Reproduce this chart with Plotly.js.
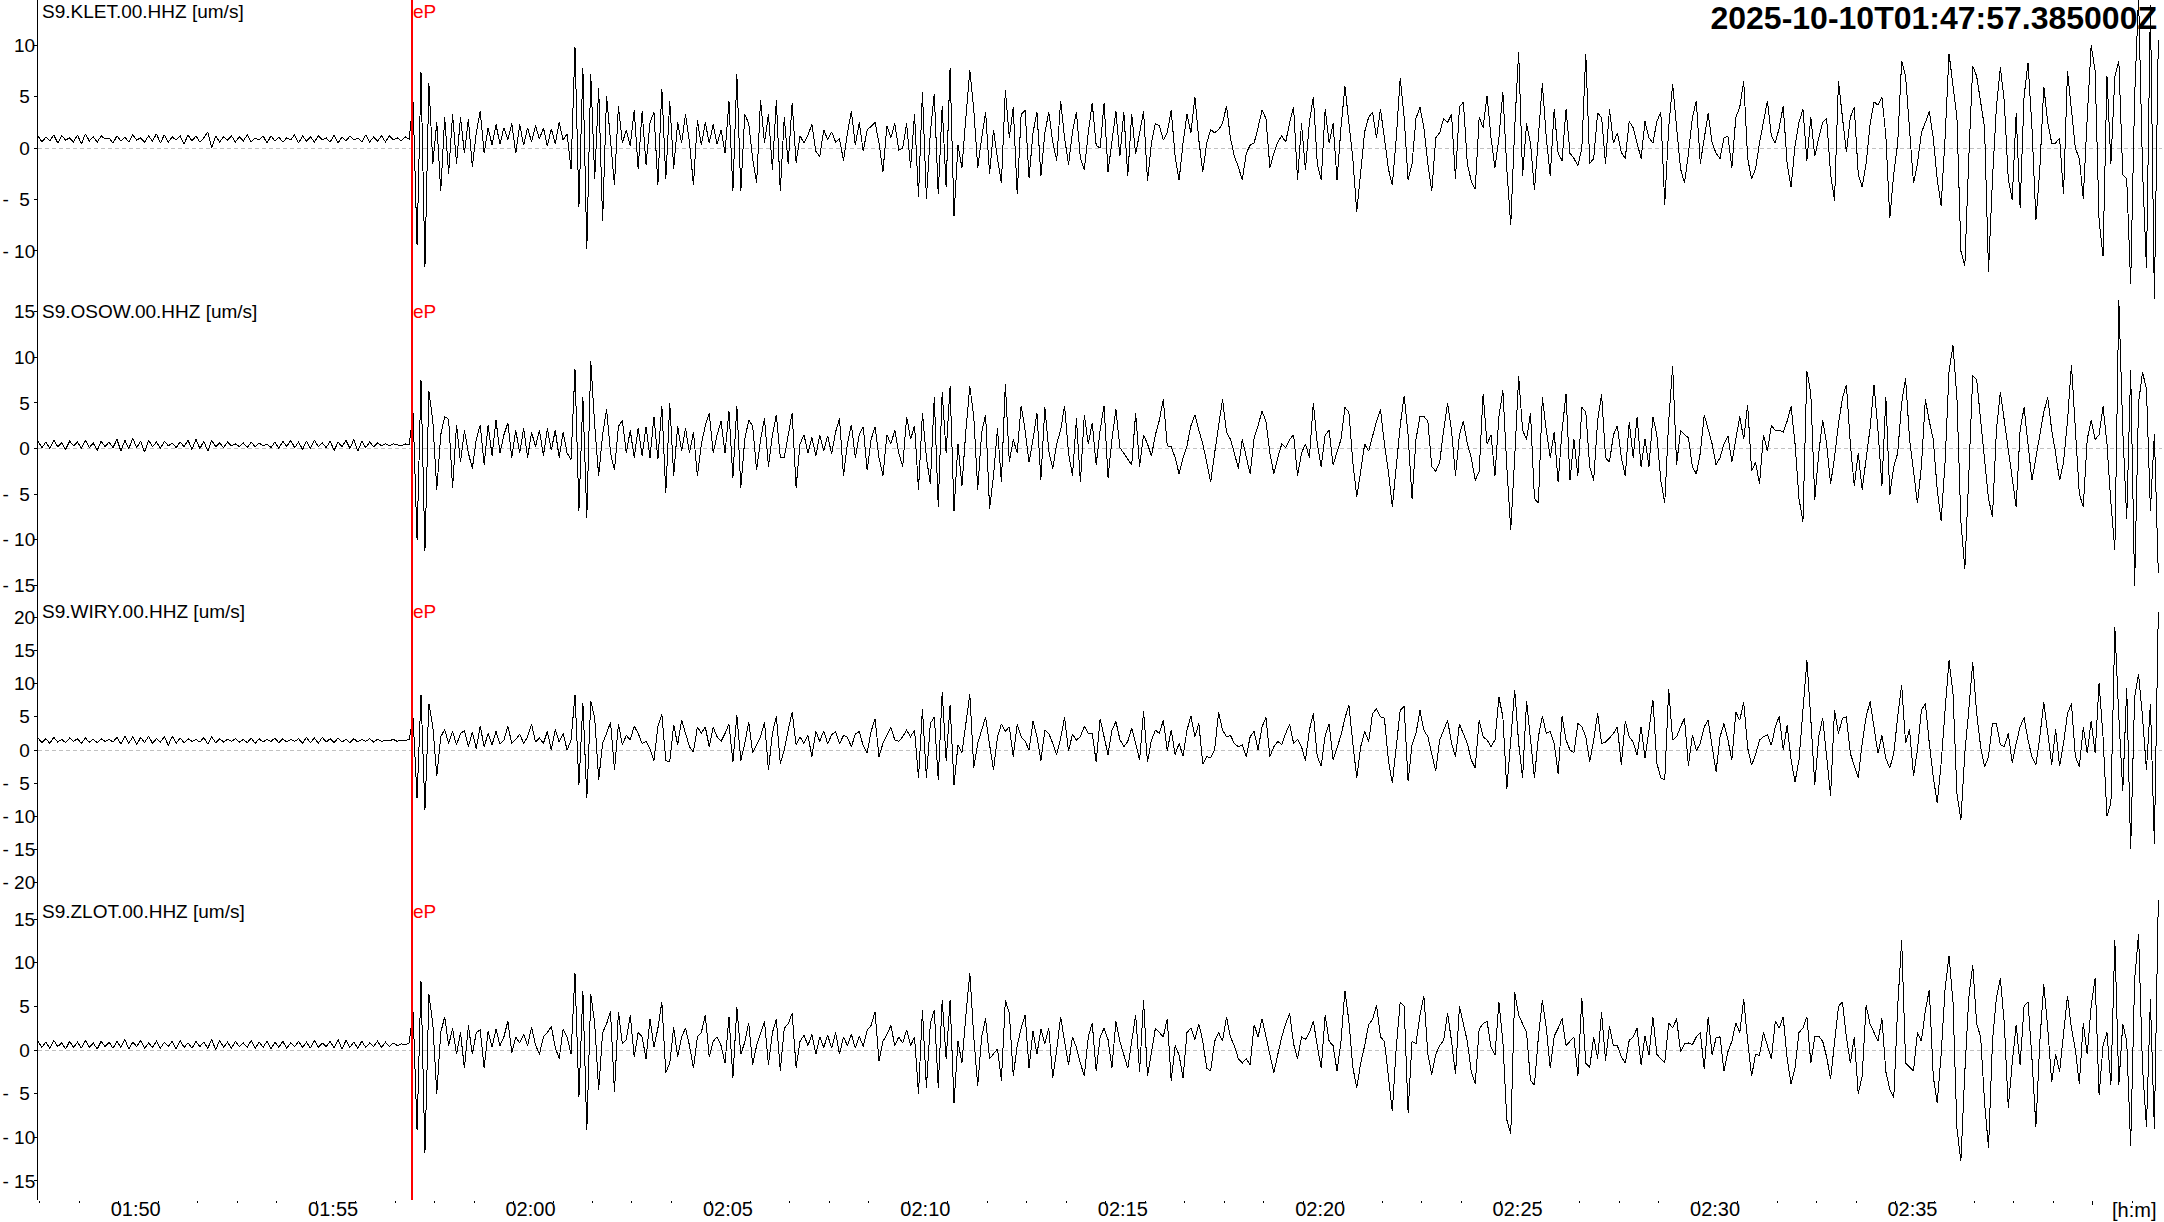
<!DOCTYPE html>
<html>
<head>
<meta charset="utf-8">
<script src="https://cdn.plot.ly/plotly-3.0.1.min.js"></script>
<style>
html,body{margin:0;padding:0;background:#ffffff;overflow:hidden;}
#chart{width:2164px;height:1222px;}
#chart .scatterlayer path, #chart .shapelayer path, #chart .xtick path, #chart .ytick path, #chart path.xtick, #chart path.ytick, #chart path.xline, #chart path.yline { shape-rendering: crispEdges; }
</style>
</head>
<body>
<div id="chart"></div>
<script>
// ---------------- data ----------------
const TITLE_TEXT = '2025-10-10T01:47:57.385000Z';
const START_UTC_MS = Date.UTC(2025, 9, 10, 1, 47, 57, 385);
const SAMPLE_INTERVAL_S = 6;
const X_RANGE = ['2025-10-10 01:47:57.385', '2025-10-10 02:41:45'];
const STATIONS = ['S9.KLET.00.HHZ [um/s]', 'S9.OSOW.00.HHZ [um/s]', 'S9.WIRY.00.HHZ [um/s]', 'S9.ZLOT.00.HHZ [um/s]'];
const PICK_LABEL = 'eP';
const PICK_TIME = '2025-10-10 01:57:25.5';
const X_TICK_TIMES = ['2025-10-10 01:50','2025-10-10 01:55','2025-10-10 02:00','2025-10-10 02:05','2025-10-10 02:10',
  '2025-10-10 02:15','2025-10-10 02:20','2025-10-10 02:25','2025-10-10 02:30','2025-10-10 02:35','2025-10-10 02:40'];
const X_TICK_LABELS = ['01:50','01:55','02:00','02:05','02:10','02:15','02:20','02:25','02:30','02:35',''];
const X_UNIT_LABEL = '[h:m]';
const Y_TICKS = [[-10,-5,0,5,10],[-15,-10,-5,0,5,10,15],[-20,-15,-10,-5,0,5,10,15,20],[-15,-10,-5,0,5,10,15]];

const KLET = [
1.2,0.6,1.1,0.7,1.3,0.5,1.2,0.8,1.0,0.6,
1.3,0.4,1.4,0.7,1.1,0.6,1.2,0.9,1.0,0.5,
1.2,0.7,1.1,0.6,1.3,0.8,1.0,0.6,1.2,0.7,
1.4,0.5,1.3,0.6,1.1,0.8,1.2,0.4,1.3,0.7,
1.2,0.6,1.0,1.6,0.0,1.2,0.6,1.1,0.8,1.2,
0.6,1.1,0.7,1.3,0.6,1.0,0.8,1.2,0.5,1.2,
0.7,1.1,0.6,1.0,0.8,1.3,0.5,1.2,0.7,1.1,
0.6,1.2,0.8,1.0,0.6,1.3,0.5,1.1,0.7,1.2,
0.8,1.0,0.6,1.3,0.6,1.1,0.7,1.2,0.6,1.2,
0.8,1.0,0.7,1.1,0.9,
4.5,-9.4,7.4,-11.6,6.3,-1.5,2.5,-4.2,3.0,-2.5,
3.3,-1.5,3.0,-0.5,2.8,-1.8,1.5,3.6,-0.5,2.0,
0.3,2.3,0.4,2.0,0.8,2.4,-0.5,2.3,0.3,2.0,
0.6,2.2,0.9,2.0,0.2,1.9,0.4,2.5,0.8,1.4,
-2.0,9.8,-5.7,7.8,-9.8,7.2,-3.0,5.9,-7.1,5.1,
0.5,-3.6,4.1,0.5,1.8,0.2,3.7,-2.0,3.6,-1.6,
2.5,3.5,-3.6,5.8,-3.0,4.6,-2.0,2.5,0.5,3.3,
0.6,-3.6,2.7,0.3,2.5,0.5,2.3,0.4,1.8,-0.5,
4.6,-4.2,7.2,-4.2,3.3,2.4,-1.0,-3.4,4.7,0.5,
3.3,-2.1,4.7,-4.2,3.0,-1.5,4.4,-1.4,1.2,0.5,
1.3,2.3,-0.3,-0.8,1.8,0.8,1.6,0.6,0.9,-1.2,
1.5,3.6,0.3,2.5,-0.3,1.8,2.1,2.5,0.5,-2.3,
2.2,1.0,2.4,-0.2,0.0,2.4,-1.9,3.3,-4.7,5.5,
-4.9,1.5,5.3,-4.5,4.1,-3.8,7.8,-6.6,0.3,-1.9,
3.0,7.6,3.8,-1.9,1.0,3.5,-2.5,1.8,-1.0,-3.4,
5.7,1.0,4.0,-4.5,3.3,3.7,-2.9,1.5,3.5,-2.7,
1.5,3.5,0.6,-1.2,4.6,1.0,-1.6,1.6,3.5,-1.0,
-2.1,1.5,4.4,0.3,0.0,4.4,-2.3,0.5,3.6,-0.8,
3.5,-2.7,3.3,-0.6,1.5,3.6,-3.2,0.5,2.4,2.2,
0.8,1.5,3.7,-0.8,-3.1,0.5,3.3,1.5,5.0,0.8,
-2.3,0.5,1.8,1.5,1.8,2.4,4.1,1.0,-0.8,-1.8,
-3.1,-0.5,0.3,0.5,2.0,3.7,2.9,-1.9,-0.5,0.6,
1.2,0.6,2.5,4.0,-3.1,2.4,-2.1,2.5,5.0,-1.5,
-3.1,3.8,0.5,2.4,-3.1,2.0,6.0,2.5,-1.0,-6.2,
-2.0,1.6,3.0,3.5,1.0,3.8,1.0,-2.0,-3.6,1.0,
6.8,3.0,-3.1,-1.5,2.9,4.0,2.0,-1.5,-4.2,1.0,
1.5,2.9,2.5,3.3,-3.0,4.0,4.5,-1.5,-3.2,-4.0,
3.0,2.0,5.1,1.0,-1.9,1.0,5.5,-2.0,-7.5,2.0,
9.4,-2.7,2.4,0.5,-4.1,1.5,6.3,1.0,-2.7,3.8,
-0.5,-1.2,3.8,-0.5,-1.0,-1.7,0.0,9.2,-1.5,-1.0,
3.4,3.0,-1.5,3.8,0.5,1.5,-0.4,-1.0,2.6,2.0,
0.5,-1.0,2.6,1.0,0.5,2.6,3.5,-5.5,2.0,6.2,
2.0,-2.0,-3.4,-0.5,3.0,4.6,-1.5,1.0,3.4,0.5,
-0.5,-1.0,1.0,1.2,-1.9,3.0,4.0,6.5,-1.0,-3.0,
-2.0,0.5,2.5,4.6,1.2,0.5,2.0,4.1,-1.5,-3.8,
0.3,2.5,3.8,-1.2,3.0,-0.8,1.0,2.5,2.9,-2.5,
-5.1,6.5,3.0,-0.4,3.0,4.0,-2.5,-3.8,-1.5,2.3,
4.5,4.2,5.0,1.2,-6.8,-2.5,0.5,8.5,7.0,1.5,
-3.4,-1.5,1.5,2.5,3.6,1.0,-3.0,-5.6,1.0,9.2,
6.0,3.0,-10.0,-11.5,-1.0,8.0,7.0,4.5,2.0,-12.0,
-3.0,4.0,7.9,4.5,-3.0,-5.0,3.4,-5.8,5.0,8.3,
2.0,-7.0,-2.0,6.0,2.5,0.5,0.5,1.0,-4.5,7.5,
4.0,0.0,-1.0,-4.9,3.0,10.0,7.5,-7.0,-10.5,7.0,
-1.5,7.0,8.5,-2.6,-3.0,-13.2,5.0,14.8,-2.0,-11.7,
13.9,-14.7,10.5
];

const OSOW = [
0.8,0.1,0.7,0.0,0.9,0.2,0.6,-0.1,0.8,0.3,
0.7,0.0,0.9,0.1,0.6,-0.2,0.8,0.2,0.7,0.1,
1.0,-0.3,0.9,0.0,1.1,0.1,0.8,-0.4,0.9,0.2,
0.7,0.0,0.8,0.3,0.6,0.1,0.7,0.2,0.9,-0.1,
1.0,0.0,0.8,-0.3,0.9,0.2,0.6,0.1,0.7,0.3,
0.5,0.2,0.6,0.1,0.7,0.2,0.6,0.3,0.5,0.1,
0.7,0.0,0.8,0.2,0.9,0.1,0.7,-0.1,0.8,0.0,
0.9,0.2,0.6,0.1,0.8,-0.2,0.7,0.2,0.9,0.0,
1.0,-0.3,0.8,0.1,0.7,0.2,0.6,0.3,0.5,0.3,
0.5,0.4,0.3,0.5,0.4,
3.9,-10.0,7.5,-11.2,6.3,3.0,-4.5,1.5,3.5,3.2,
-4.3,2.6,-1.5,2.0,-0.5,-2.2,1.0,2.6,-1.8,2.6,
-0.8,3.1,-0.5,1.5,2.8,-1.0,2.0,-0.5,2.2,-1.0,
1.8,0.2,2.0,-0.8,2.2,-0.2,2.0,-1.0,1.8,-0.5,
-1.2,8.7,-6.8,5.6,-7.6,9.6,2.5,-3.0,1.5,4.3,
-0.5,-2.4,2.4,3.1,-0.5,2.0,-1.0,2.2,-0.8,2.4,
-1.0,3.5,-1.2,4.7,-4.9,5.0,-3.0,2.5,-0.3,2.2,
-0.5,1.8,-3.0,0.5,2.5,3.9,-0.5,1.5,3.0,-0.5,
4.1,-3.2,4.7,-4.3,1.0,3.1,2.5,-2.4,1.0,3.3,
-2.0,1.5,3.7,-1.0,-1.0,1.5,3.9,-4.3,0.5,1.5,
-0.5,1.2,-0.8,1.5,-0.3,1.4,-0.6,1.8,3.3,-3.0,
0.5,2.6,-1.0,1.5,2.4,-2.4,1.0,2.4,-1.0,-3.0,
1.5,0.5,2.0,-0.5,-2.0,3.5,1.0,2.5,-4.5,3.9,
-1.0,-3.9,5.6,-6.4,6.2,-0.5,6.8,-6.8,0.5,-4.1,
2.0,6.8,3.5,-4.5,1.8,3.7,-6.6,-3.0,2.2,-3.7,
7.1,-1.5,1.0,-0.5,4.7,2.0,-1.5,1.0,3.9,-3.4,
4.5,-0.3,-2.2,0.5,2.0,4.7,-0.5,-3.0,3.3,-3.7,
3.7,0.5,2.8,-1.8,2.0,4.7,-3.2,1.0,4.3,0.1,
-0.5,-1.2,-1.8,3.9,-2.0,1.5,0.5,-0.8,1.5,3.1,
5.4,0.3,0.2,-1.0,-2.8,-1.0,0.3,2.5,3.7,2.0,
0.5,-1.5,-3.7,-0.5,2.5,5.4,1.8,1.0,-0.5,-2.2,
1.0,-1.0,-2.8,1.2,2.5,4.1,3.0,-0.5,-2.8,-1.0,
0.5,0.1,1.0,1.5,-3.0,-0.5,0.5,-1.0,5.0,0.5,
-2.0,1.5,2.0,-1.8,-0.5,1.0,4.5,4.0,-1.5,-5.3,
-2.5,0.5,-0.3,1.5,3.0,4.3,0.5,-2.5,-6.4,-2.0,
2.5,5.8,1.5,-5.5,1.0,3.5,3.5,3.0,-2.0,-2.5,
-1.5,2.0,5.0,2.0,-3.0,1.5,3.0,0.5,-1.0,-3.5,
-2.5,6.0,0.5,1.5,-3.0,3.5,6.4,-2.0,-8.9,-1.0,
7.9,2.0,1.0,3.9,-5.5,-6.0,5.6,2.0,-1.0,1.8,
-3.7,2.0,6.0,-3.5,1.0,-3.0,4.5,4.0,-2.0,-3.5,
3.0,6.0,-1.0,-1.5,1.5,2.5,-1.0,-3.0,2.9,-1.0,
3.5,-2.0,1.0,-2.0,3.5,1.5,-3.5,-6.0,3.0,9.0,
-1.8,2.0,1.5,1.2,-2.0,-2.8,-0.5,3.7,2.0,0.5,
-1.8,-1.0,0.5,1.4,-1.5,1.0,3.5,1.0,4.8,-2.5,
-1.5,-3.9,1.5,-0.3,2.5,2.0,2.0,1.8,3.0,4.6,
0.5,-5.5,-8.0,8.5,6.0,-5.6,-0.5,3.1,0.5,-3.9,
-1.0,2.7,5.5,7.0,0.5,-4.1,-0.5,-4.5,-1.0,2.2,
7.0,2.0,-4.1,5.6,-5.1,-2.0,-0.5,5.0,7.7,1.0,
-2.5,-6.0,-2.0,5.4,3.0,1.0,-4.5,-7.9,-1.5,8.5,
11.3,5.5,-8.0,-13.2,-3.0,8.0,7.5,3.0,-1.5,-5.5,
-7.5,2.0,6.2,3.0,0.2,-3.0,-6.4,2.0,4.5,0.5,
-3.5,-1.0,1.5,4.0,5.6,2.0,-0.5,-3.5,-1.5,3.0,
9.2,2.0,-5.0,-6.4,1.0,3.1,1.0,1.5,4.6,0.5,
-6.0,-11.1,16.4,2.0,-7.7,8.6,-15.1,5.0,8.4,6.5,
-6.8,1.6,-13.6
];

const WIRY = [
1.8,1.1,1.7,1.0,1.9,1.2,1.6,1.1,1.8,1.3,
1.7,1.0,1.8,1.2,1.6,1.1,1.7,1.3,1.6,1.2,
1.9,0.9,2.1,1.0,2.0,0.8,1.9,1.1,2.1,1.0,
1.7,1.2,2.0,0.7,2.1,1.0,1.8,1.1,1.7,1.3,
1.6,1.2,1.9,0.9,2.0,1.1,1.7,1.2,1.6,1.3,
1.7,1.2,1.6,1.1,1.8,1.0,1.7,1.2,1.6,1.3,
1.8,1.1,1.7,1.2,1.6,1.3,1.7,1.0,1.9,1.1,
1.8,1.0,1.9,1.2,1.7,1.1,1.8,1.2,1.6,1.1,
1.7,1.2,1.6,1.3,1.7,1.2,1.6,1.3,1.5,1.4,
1.6,1.3,1.5,1.4,1.6,
4.8,-7.3,8.3,-9.1,7.0,3.5,-3.9,2.0,3.1,1.0,
2.8,0.8,2.5,2.9,0.5,2.7,0.2,3.6,0.5,2.5,
0.8,2.8,0.9,1.5,3.6,1.0,1.6,2.4,1.0,2.0,
3.9,1.2,1.8,1.0,2.8,0.0,3.1,1.2,2.5,0.0,
1.5,8.3,-5.3,7.1,-7.3,7.4,4.8,-4.5,1.0,2.5,
4.2,-3.0,3.9,0.8,2.2,1.5,3.6,2.5,1.0,1.3,
0.2,-1.6,3.6,5.4,-1.6,-1.8,3.8,0.8,4.5,2.5,
0.5,-0.3,3.5,2.5,3.5,0.5,3.4,2.0,1.3,2.5,
3.9,-1.8,5.2,-1.6,1.0,4.2,-0.4,0.8,2.0,4.2,
-3.0,2.5,5.1,-2.1,0.0,3.0,5.7,0.8,2.0,1.0,
2.2,-1.0,2.8,1.3,2.9,0.9,2.3,2.8,0.9,2.2,
1.9,0.5,2.4,2.8,0.6,-0.4,2.8,4.7,-1.0,1.0,
2.2,3.4,1.5,1.3,2.0,3.0,2.0,3.0,-4.2,6.2,
-4.2,4.0,5.0,-4.5,8.8,-1.6,6.8,-5.3,0.8,-0.4,
4.0,8.4,-2.7,1.0,3.0,5.0,0.8,-3.0,2.0,3.9,
2.8,3.5,-1.0,3.9,2.0,1.3,0.0,4.3,2.0,-1.6,
3.0,2.5,1.0,-0.7,1.8,4.9,-0.2,2.4,1.5,2.0,
3.6,2.5,2.5,-1.8,4.7,2.0,-0.7,3.0,4.3,1.6,
0.5,1.3,3.3,1.0,-1.5,5.8,-1.8,1.5,3.0,2.5,
4.5,-0.1,3.0,-0.7,1.0,-0.9,3.0,5.1,2.0,4.0,
-2.1,-1.0,-1.2,0.0,5.7,3.0,2.0,2.2,1.0,0.5,
0.8,-1.0,2.0,2.8,0.0,3.5,4.9,-1.0,0.5,1.3,
0.8,2.5,3.9,1.0,1.6,0.5,-1.6,3.0,5.5,-1.0,
-2.4,2.2,3.9,-1.5,0.5,2.2,4.8,6.8,1.0,-4.2,
0.5,2.8,1.3,5.5,6.2,5.0,4.8,-1.5,-5.0,1.0,
6.0,6.6,-4.7,0.8,2.5,6.0,3.0,2.0,-0.7,-3.2,
1.5,3.0,4.5,1.0,-1.0,3.9,2.5,1.0,-1.5,-2.7,
4.5,2.0,1.5,0.5,1.5,8.0,5.0,-5.9,1.5,9.1,
1.0,-4.2,7.4,1.0,-4.2,2.0,5.1,2.5,2.8,1.0,
-3.6,5.1,1.5,0.0,-0.4,4.0,3.5,2.0,-1.8,1.5,
5.5,1.0,1.2,1.8,2.5,3.5,-2.2,4.4,2.0,1.2,
-0.8,3.5,-1.2,3.0,7.6,-2.0,-4.2,-4.5,9.2,1.5,
2.0,3.5,4.8,-2.4,2.3,-0.1,1.0,3.5,4.5,0.5,
-3.3,2.0,4.0,1.5,-1.5,5.7,4.5,7.2,0.3,-2.3,
-0.7,1.5,2.0,2.3,0.7,3.5,5.1,0.0,3.7,-1.5,
-4.8,-1.5,6.0,13.5,4.6,-5.3,2.0,4.8,-1.0,-6.9,
6.0,2.5,4.8,5.0,-0.5,-2.5,-4.2,1.0,5.0,7.3,
3.0,-0.5,2.2,-1.3,-2.7,-0.5,5.0,9.8,1.0,3.1,
-3.9,0.0,6.0,7.0,1.0,-4.0,-8.0,-2.0,6.0,13.5,
8.5,-6.5,-10.6,-0.5,6.0,13.3,5.5,0.5,-2.6,-1.0,
4.0,4.0,0.8,0.5,2.5,-1.9,1.0,3.5,4.9,1.5,
-1.0,-2.2,2.0,7.2,2.5,-2.2,3.1,-2.4,1.0,5.5,
7.0,-1.0,-2.5,3.5,-0.5,4.4,-0.5,10.1,2.0,-10.0,
-8.0,18.5,5.0,-6.2,9.4,-14.9,8.0,11.5,5.0,-3.0,
7.0,-14.1,20.8
];

const ZLOT = [
1.0,0.3,0.9,0.2,1.1,0.4,0.8,0.1,1.0,0.3,
0.9,0.2,1.1,0.3,0.8,0.1,1.0,0.4,0.9,0.2,
1.0,0.3,1.2,0.1,0.9,0.4,1.1,0.2,0.8,0.3,
1.0,0.2,0.9,0.4,1.0,0.1,1.1,0.3,0.8,0.2,
1.0,0.4,0.9,0.2,1.2,0.0,1.1,0.3,0.9,0.2,
1.0,0.4,0.8,0.3,1.1,0.2,0.9,0.3,1.0,0.1,
0.9,0.3,1.0,0.2,0.8,0.4,1.0,0.3,0.9,0.2,
1.1,0.3,0.8,0.4,1.0,0.2,1.2,0.1,1.1,0.3,
0.9,0.2,1.0,0.3,0.8,0.4,1.0,0.3,0.9,0.4,
0.8,0.5,0.7,0.6,0.8,
4.4,-9.2,7.9,-11.8,6.4,3.0,-5.0,2.0,3.8,0.5,
2.5,-0.5,2.0,-2.1,2.8,-0.5,2.0,2.3,-2.1,2.2,
0.3,2.4,0.5,1.5,3.3,-0.3,1.5,0.8,1.8,0.5,
2.6,0.6,-0.5,1.5,2.0,2.7,0.3,-1.0,2.4,1.5,
-0.5,8.8,-5.4,6.8,-9.2,6.4,3.0,-4.6,2.0,3.0,
4.4,-4.8,4.4,0.7,1.2,4.0,-0.8,2.0,1.5,-1.0,
3.6,0.3,2.5,5.5,-2.6,-1.5,2.6,-0.8,1.5,2.5,
0.5,-2.1,1.5,2.0,4.0,-0.8,1.0,1.5,0.5,-1.5,
3.8,-3.2,4.9,-0.5,0.9,3.1,-1.7,0.5,2.0,3.3,
-1.7,2.0,3.5,-2.4,2.5,3.0,4.2,-2.0,1.0,1.7,
0.5,1.8,-0.5,1.5,0.3,1.7,0.2,2.0,-0.5,1.5,
0.5,1.8,0.2,1.6,0.4,2.3,2.8,4.4,-1.3,1.0,
1.8,2.8,0.5,1.5,0.8,2.3,0.5,1.5,-5.0,4.6,
-4.3,3.0,4.6,-4.3,5.7,-1.0,5.7,-6.1,1.0,-1.5,
4.0,8.8,1.5,-4.1,1.5,3.6,-1.0,-0.5,0.1,-3.5,
5.7,4.2,-3.0,0.5,2.5,4.0,-2.1,2.2,-0.5,2.4,
0.7,2.5,-3.2,0.0,3.8,1.0,-1.7,1.5,0.3,-1.5,
-3.0,1.5,3.1,-2.4,1.5,2.5,1.2,-2.0,3.3,1.0,
-0.5,-2.1,1.0,4.0,-2.5,5.7,-3.0,0.0,2.5,2.0,
1.5,3.6,-3.5,0.5,-0.6,-3.2,2.0,2.5,1.2,3.0,
1.0,-2.1,-2.4,1.0,2.0,1.0,3.8,1.5,0.5,-1.0,
-1.5,-1.0,-1.7,2.9,1.5,3.6,1.5,-0.5,-2.6,-0.5,
1.5,3.0,4.2,0.7,-1.0,1.5,1.2,2.0,3.3,0.5,
-2.1,4.0,1.0,0.5,-2.4,1.0,6.8,3.3,-2.0,-4.3,
-1.5,0.5,2.9,3.5,5.1,1.5,1.0,-3.0,-7.0,0.3,
5.5,5.0,-7.2,1.0,0.7,4.0,6.2,-0.5,-2.8,-0.5,
0.5,1.1,4.2,1.0,-2.8,5.0,3.0,1.0,-2.5,-3.9,
2.4,3.0,3.3,0.3,-0.6,5.5,1.0,-8.0,-9.6,6.6,
4.0,3.0,2.0,-3.5,-4.0,1.5,5.7,2.5,-2.1,1.6,
2.5,3.6,0.5,1.0,1.5,-3.0,6.0,-1.5,-2.0,1.5,
-1.0,4.3,-1.2,2.7,0.5,0.5,-0.8,-1.5,1.1,1.5,
2.5,-1.7,1.6,-0.6,3.8,-0.5,-1.0,-1.5,3.1,2.5,
3.6,-0.2,0.7,0.8,0.6,1.5,2.0,-2.2,3.8,-0.6,
1.4,1.5,-2.4,-0.2,1.0,3.1,2.0,5.8,1.0,-3.0,
-0.5,-0.6,2.0,0.5,-1.0,3.3,2.5,3.8,-1.0,-3.9,
-2.0,2.0,2.5,3.8,-1.5,1.5,1.6,1.0,-0.8,-3.3,
1.0,5.0,5.5,1.5,-1.5,1.5,-5.0,-3.0,5.1,3.0,
2.0,1.0,3.6,-2.5,-4.5,-5.5,5.0,12.6,-1.5,-2.0,
-2.4,2.0,1.0,4.5,6.9,-3.0,-6.1,-0.5,7.0,10.8,
5.5,-9.0,-12.7,-2.5,6.0,9.7,3.0,1.5,-6.0,-11.2,
1.0,6.0,8.2,3.0,-6.6,-1.5,2.9,-1.7,5.0,5.5,
-1.0,-8.8,1.0,7.5,2.5,-3.7,-0.5,-2.5,2.0,6.2,
2.5,0.0,-3.9,3.1,-0.5,5.0,8.2,-5.2,0.5,2.0,
-4.0,12.6,-4.0,3.0,1.0,-11.0,8.0,13.3,-2.0,-8.8,
5.8,-9.0,17.2
];

// ---------------- layout helpers ----------------
const FONT = 'Liberation Sans, Arial, Helvetica, sans-serif';
const SERIES = [KLET, OSOW, WIRY, ZLOT];
const Y_RANGES = [[-14.77, 14.42], [-16.61, 16.28], [-22.62, 22.62], [-17.18, 17.18]];
const DOMAINS = [[0.75, 1], [0.5, 0.75], [0.25, 0.5], [0, 0.25]];

function sampleTimes(n) {
  const out = new Array(n);
  for (let i = 0; i < n; i++) out[i] = START_UTC_MS + i * SAMPLE_INTERVAL_S * 1000;
  return out;
}
function yTickText(v) {
  const nb = '\u00a0';
  const a = Math.abs(v);
  const body = a < 10 ? a + nb : String(a);
  if (v < 0) return '-' + (a < 10 ? nb + nb : nb) + body;
  return body;
}

const traces = SERIES.map((vals, k) => ({
  type: 'scatter', mode: 'lines',
  x: sampleTimes(vals.length), y: vals,
  xaxis: 'x', yaxis: k === 0 ? 'y' : 'y' + (k + 1),
  line: { color: '#000000', width: 1 },
  hoverinfo: 'skip', showlegend: false
}));

const layout = {
  width: 2164, height: 1222,
  margin: { l: 38, r: 2, t: 0, b: 22, pad: 0 },
  paper_bgcolor: '#ffffff', plot_bgcolor: '#ffffff',
  font: { family: FONT, size: 19, color: '#000000' },
  showlegend: false,
  title: {
    text: '<b>' + TITLE_TEXT + '</b>',
    font: { family: FONT, size: 32, color: '#000000' },
    xref: 'paper', x: 1, xanchor: 'right',
    yref: 'container', y: 1, yanchor: 'top',
    pad: { t: 7, r: 5 }
  },
  xaxis: {
    type: 'date', range: X_RANGE, anchor: 'y4',
    tickmode: 'array', tickvals: X_TICK_TIMES, ticktext: X_TICK_LABELS,
    ticks: 'outside', ticklen: 4, tickwidth: 1, tickcolor: '#000000',
    ticklabelshift: 17, ticklabelstandoff: -13,
    tickfont: { family: FONT, size: 20, color: '#000000' },
    showline: false, showgrid: false, zeroline: false,
    minor: { tickmode: 'linear', tick0: '2025-10-10 01:00', dtick: 60000,
             ticks: 'outside', ticklen: 2, tickwidth: 1, tickcolor: '#000000', showgrid: false },
    fixedrange: true
  },
  xaxis2: {
    type: 'date', range: X_RANGE, overlaying: 'x', side: 'top', anchor: 'free', position: 1,
    tickmode: 'array', tickvals: X_TICK_TIMES, showticklabels: false,
    ticks: 'inside', ticklen: 4, tickwidth: 1, tickcolor: '#000000',
    showline: false, showgrid: false, zeroline: false,
    minor: { tickmode: 'linear', tick0: '2025-10-10 01:00', dtick: 60000,
             ticks: 'inside', ticklen: 2, tickwidth: 1, tickcolor: '#000000', showgrid: false },
    fixedrange: true
  },
  shapes: [],
  annotations: []
};

for (let k = 0; k < 4; k++) {
  const name = k === 0 ? 'yaxis' : 'yaxis' + (k + 1);
  const ref = k === 0 ? 'y' : 'y' + (k + 1);
  layout[name] = {
    domain: DOMAINS[k], range: Y_RANGES[k], anchor: 'x',
    tickmode: 'array', tickvals: Y_TICKS[k], ticktext: Y_TICKS[k].map(yTickText),
    ticks: 'outside', ticklen: 3, tickwidth: 1, tickcolor: '#000000',
    ticklabelstandoff: -5,
    tickfont: { family: FONT, size: 19, color: '#000000' },
    showline: true, linecolor: '#000000', linewidth: 1,
    showgrid: false, zeroline: false, fixedrange: true
  };
  layout.shapes.push({
    type: 'line', xref: 'paper', x0: 0, x1: 1, yref: ref, y0: 0, y1: 0,
    line: { color: '#c0c0c0', width: 1, dash: '4px,3px' }, layer: 'below'
  });
  layout.annotations.push({
    xref: 'paper', x: 0, xanchor: 'left', xshift: 2,
    yref: ref + ' domain', y: 1, yanchor: 'top', yshift: 1,
    text: STATIONS[k], showarrow: false,
    font: { family: FONT, size: 19, color: '#000000' }
  });
  layout.annotations.push({
    xref: 'x', x: PICK_TIME, xanchor: 'left', xshift: -1,
    yref: ref + ' domain', y: 1, yanchor: 'top', yshift: 1,
    text: PICK_LABEL, showarrow: false,
    font: { family: FONT, size: 19, color: '#ff0000' }
  });
}
layout.shapes.push({
  type: 'line', xref: 'x', x0: PICK_TIME, x1: PICK_TIME, yref: 'paper', y0: 0, y1: 1,
  line: { color: '#ff0000', width: 2 }
});
layout.annotations.push({
  xref: 'paper', x: 1, xanchor: 'right', xshift: -4,
  yref: 'paper', y: 0, yanchor: 'top', yshift: 3,
  text: X_UNIT_LABEL, showarrow: false,
  font: { family: FONT, size: 20, color: '#000000' }
});

Plotly.newPlot('chart', traces, layout, { staticPlot: true, displayModeBar: false });
</script>
</body>
</html>
